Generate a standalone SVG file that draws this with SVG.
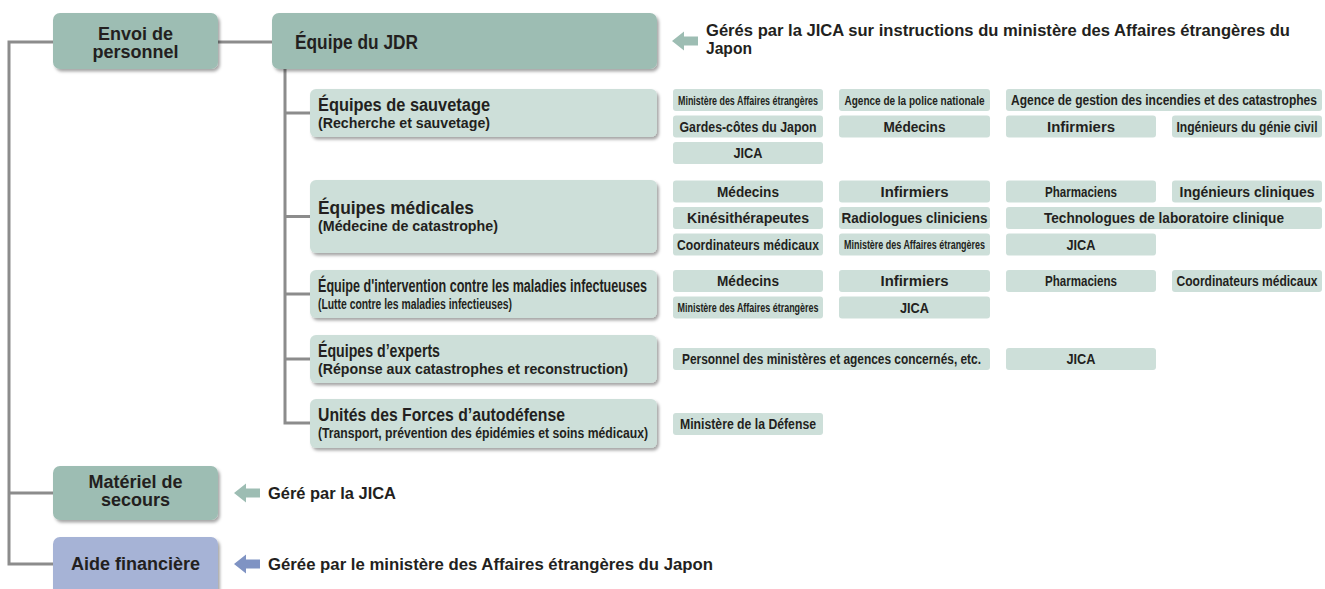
<svg xmlns="http://www.w3.org/2000/svg" width="1325" height="589" viewBox="0 0 1325 589">
<defs>
<style>
.t{font-family:'Liberation Sans',Arial,sans-serif;font-weight:bold;fill:#231f20}
.main{font-size:18px;text-anchor:middle}
.h1{font-size:18px}
.h2{font-size:14.5px}
.tg{font-size:14px;text-anchor:middle}
.sm{font-size:12.5px;text-anchor:middle}
.note{font-size:16.5px}
.dk{fill:#9dbdb3}
.lt{fill:#cddfd9}
.bl{fill:#a6b3d6}
.ln{fill:none;stroke:#8c8c8c;stroke-width:3}
</style>
<filter id="sh" x="-5%" y="-10%" width="115%" height="140%">
<feDropShadow dx="2" dy="2.5" stdDeviation="1.5" flood-color="#000" flood-opacity="0.35"/>
</filter>
<path id="arr" d="M0,0 L12,-9.5 L12,-4.5 L26,-4.5 L26,4.5 L12,4.5 L12,9.5 Z"/>
</defs>
<rect width="1325" height="589" fill="#fff"/>

<g id="connectors">
<path class="ln" d="M53,42 H9 V564 H53 M9,493 H53"/>
<path class="ln" d="M218,42 H272"/>
<path class="ln" d="M285,69 V423 H310 M285,113 H310 M285,216.5 H310 M285,294 H310 M285,359 H310"/>
<use href="#arr" x="672" y="41" fill="#9dbdb3"/>
<use href="#arr" x="234" y="493" fill="#9dbdb3"/>
<use href="#arr" x="234" y="564" fill="#7f93c3"/>
</g>

<g id="envoi">
<rect class="dk" x="53" y="13" width="165" height="56" rx="7" filter="url(#sh)"/>
<text class="t main" x="135.5" y="40">Envoi de</text>
<text class="t main" x="135.5" y="58">personnel</text>
</g>

<g id="jdr">
<rect class="dk" x="272" y="13" width="385" height="56" rx="7" filter="url(#sh)"/>
<text class="t" x="295" y="49" font-size="20" textLength="123" lengthAdjust="spacingAndGlyphs">Équipe du JDR</text>
</g>

<g id="note-jdr">
<text class="t note" x="706" y="36" textLength="584" lengthAdjust="spacingAndGlyphs">Gérés par la JICA sur instructions du ministère des Affaires étrangères du</text>
<text class="t note" x="706" y="54" textLength="46" lengthAdjust="spacingAndGlyphs">Japon</text>
</g>

<g id="sauvetage">
<rect class="lt" x="310" y="89" width="347" height="48" rx="6" filter="url(#sh)"/>
<text class="t h1" x="318" y="110.5" textLength="172" lengthAdjust="spacingAndGlyphs">Équipes de sauvetage</text>
<text class="t h2" x="318" y="127.5" textLength="172" lengthAdjust="spacingAndGlyphs">(Recherche et sauvetage)</text>
</g>
<g id="sauvetage-tags">
<rect class="lt" x="673" y="89" width="150" height="22" rx="3"/>
<text class="t sm" x="748" y="104.5" textLength="140" lengthAdjust="spacingAndGlyphs">Ministère des Affaires étrangères</text>
<rect class="lt" x="839" y="89" width="151" height="22" rx="3"/>
<text class="t sm" x="914.5" y="104.5" textLength="140" lengthAdjust="spacingAndGlyphs">Agence de la police nationale</text>
<rect class="lt" x="1006" y="89" width="316" height="22" rx="3"/>
<text class="t tg" x="1164" y="105" textLength="306" lengthAdjust="spacingAndGlyphs">Agence de gestion des incendies et des catastrophes</text>
<rect class="lt" x="673" y="115.5" width="150" height="22" rx="3"/>
<text class="t tg" x="748" y="131.5" textLength="137" lengthAdjust="spacingAndGlyphs">Gardes-côtes du Japon</text>
<rect class="lt" x="839" y="115.5" width="151" height="22" rx="3"/>
<text class="t tg" x="914.5" y="131.5" textLength="62" lengthAdjust="spacingAndGlyphs">Médecins</text>
<rect class="lt" x="1006" y="115.5" width="150" height="22" rx="3"/>
<text class="t tg" x="1081" y="131.5" textLength="68" lengthAdjust="spacingAndGlyphs">Infirmiers</text>
<rect class="lt" x="1172" y="115.5" width="150" height="22" rx="3"/>
<text class="t tg" x="1247" y="131.5" textLength="141" lengthAdjust="spacingAndGlyphs">Ingénieurs du génie civil</text>
<rect class="lt" x="673" y="142" width="150" height="22" rx="3"/>
<text class="t tg" x="748" y="158" textLength="29" lengthAdjust="spacingAndGlyphs">JICA</text>
</g>

<g id="medicales">
<rect class="lt" x="310" y="180" width="347" height="73" rx="6" filter="url(#sh)"/>
<text class="t h1" x="318" y="214" textLength="156" lengthAdjust="spacingAndGlyphs">Équipes médicales</text>
<text class="t h2" x="318" y="231" textLength="180" lengthAdjust="spacingAndGlyphs">(Médecine de catastrophe)</text>
</g>
<g id="medicales-tags">
<rect class="lt" x="673" y="180.5" width="150" height="22" rx="3"/>
<text class="t tg" x="748" y="196.5" textLength="62" lengthAdjust="spacingAndGlyphs">Médecins</text>
<rect class="lt" x="839" y="180.5" width="151" height="22" rx="3"/>
<text class="t tg" x="914.5" y="196.5" textLength="68" lengthAdjust="spacingAndGlyphs">Infirmiers</text>
<rect class="lt" x="1006" y="180.5" width="150" height="22" rx="3"/>
<text class="t tg" x="1081" y="196.5" textLength="72" lengthAdjust="spacingAndGlyphs">Pharmaciens</text>
<rect class="lt" x="1172" y="180.5" width="150" height="22" rx="3"/>
<text class="t tg" x="1247" y="196.5" textLength="135" lengthAdjust="spacingAndGlyphs">Ingénieurs cliniques</text>
<rect class="lt" x="673" y="207" width="150" height="22" rx="3"/>
<text class="t tg" x="748" y="223" textLength="122" lengthAdjust="spacingAndGlyphs">Kinésithérapeutes</text>
<rect class="lt" x="839" y="207" width="151" height="22" rx="3"/>
<text class="t tg" x="914.5" y="223" textLength="146" lengthAdjust="spacingAndGlyphs">Radiologues cliniciens</text>
<rect class="lt" x="1006" y="207" width="316" height="22" rx="3"/>
<text class="t tg" x="1164" y="223" textLength="240" lengthAdjust="spacingAndGlyphs">Technologues de laboratoire clinique</text>
<rect class="lt" x="673" y="233.5" width="150" height="22" rx="3"/>
<text class="t tg" x="748" y="249.5" textLength="142" lengthAdjust="spacingAndGlyphs">Coordinateurs médicaux</text>
<rect class="lt" x="839" y="233.5" width="151" height="22" rx="3"/>
<text class="t sm" x="914.5" y="249" textLength="141" lengthAdjust="spacingAndGlyphs">Ministère des Affaires étrangères</text>
<rect class="lt" x="1006" y="233.5" width="150" height="22" rx="3"/>
<text class="t tg" x="1081" y="249.5" textLength="29" lengthAdjust="spacingAndGlyphs">JICA</text>
</g>

<g id="infectieuses">
<rect class="lt" x="310" y="270" width="347" height="48" rx="6" filter="url(#sh)"/>
<text class="t h1" x="318" y="291.5" font-weight="normal" textLength="329" lengthAdjust="spacingAndGlyphs">Équipe d'intervention contre les maladies infectueuses</text>
<text class="t h2" x="318" y="308.5" font-weight="normal" textLength="194" lengthAdjust="spacingAndGlyphs">(Lutte contre les maladies infectieuses)</text>
</g>
<g id="infectieuses-tags">
<rect class="lt" x="673" y="270" width="150" height="22" rx="3"/>
<text class="t tg" x="748" y="286" textLength="62" lengthAdjust="spacingAndGlyphs">Médecins</text>
<rect class="lt" x="839" y="270" width="151" height="22" rx="3"/>
<text class="t tg" x="914.5" y="286" textLength="68" lengthAdjust="spacingAndGlyphs">Infirmiers</text>
<rect class="lt" x="1006" y="270" width="150" height="22" rx="3"/>
<text class="t tg" x="1081" y="286" textLength="72" lengthAdjust="spacingAndGlyphs">Pharmaciens</text>
<rect class="lt" x="1172" y="270" width="150" height="22" rx="3"/>
<text class="t tg" x="1247" y="286" textLength="141" lengthAdjust="spacingAndGlyphs">Coordinateurs médicaux</text>
<rect class="lt" x="673" y="296.5" width="150" height="22" rx="3"/>
<text class="t sm" x="748" y="312" textLength="141" lengthAdjust="spacingAndGlyphs">Ministère des Affaires étrangères</text>
<rect class="lt" x="839" y="296.5" width="151" height="22" rx="3"/>
<text class="t tg" x="914.5" y="312.5" textLength="29" lengthAdjust="spacingAndGlyphs">JICA</text>
</g>

<g id="experts">
<rect class="lt" x="310" y="335" width="347" height="48" rx="6" filter="url(#sh)"/>
<text class="t h1" x="318" y="356.5" textLength="122" lengthAdjust="spacingAndGlyphs">Équipes d’experts</text>
<text class="t h2" x="318" y="373.5" textLength="310" lengthAdjust="spacingAndGlyphs">(Réponse aux catastrophes et reconstruction)</text>
</g>
<g id="experts-tags">
<rect class="lt" x="673" y="348" width="317" height="22" rx="3"/>
<text class="t tg" x="831.5" y="364" textLength="299" lengthAdjust="spacingAndGlyphs">Personnel des ministères et agences concernés, etc.</text>
<rect class="lt" x="1006" y="348" width="150" height="22" rx="3"/>
<text class="t tg" x="1081" y="364" textLength="29" lengthAdjust="spacingAndGlyphs">JICA</text>
</g>

<g id="autodefense">
<rect class="lt" x="310" y="399" width="347" height="49" rx="6" filter="url(#sh)"/>
<text class="t h1" x="318" y="420.5" textLength="247" lengthAdjust="spacingAndGlyphs">Unités des Forces d’autodéfense</text>
<text class="t h2" x="318" y="437.5" textLength="330" lengthAdjust="spacingAndGlyphs">(Transport, prévention des épidémies et soins médicaux)</text>
</g>
<g id="autodefense-tags">
<rect class="lt" x="673" y="413" width="150" height="22" rx="3"/>
<text class="t tg" x="748" y="429" textLength="136" lengthAdjust="spacingAndGlyphs">Ministère de la Défense</text>
</g>

<g id="materiel">
<rect class="dk" x="53" y="466" width="165" height="54" rx="7" filter="url(#sh)"/>
<text class="t main" x="135.5" y="488">Matériel de</text>
<text class="t main" x="135.5" y="506">secours</text>
<text class="t note" x="268" y="499" textLength="128" lengthAdjust="spacingAndGlyphs">Géré par la JICA</text>
</g>

<g id="aide">
<rect class="bl" x="53" y="537" width="165" height="60" rx="7" filter="url(#sh)"/>
<text class="t main" x="135.5" y="570">Aide financière</text>
<text class="t note" x="268" y="570" textLength="445" lengthAdjust="spacingAndGlyphs">Gérée par le ministère des Affaires étrangères du Japon</text>
</g>
</svg>
